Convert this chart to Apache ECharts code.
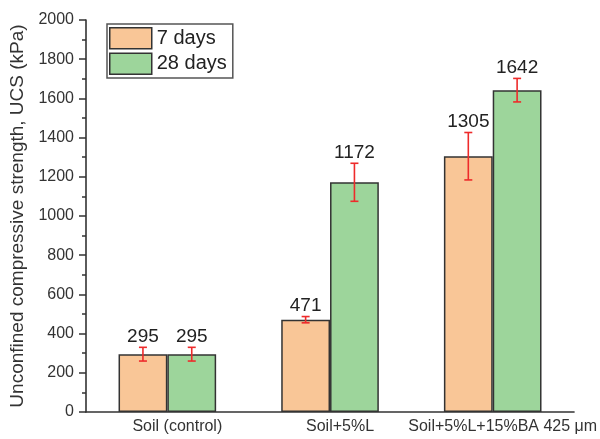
<!DOCTYPE html>
<html>
<head>
<meta charset="utf-8">
<script src="https://cdn.jsdelivr.net/npm/echarts@6/dist/echarts.min.js"></script>
<style>
html,body{margin:0;padding:0;background:#fff;}
#chart{width:600px;height:439px;}
</style>
</head>
<body>
<div id="chart"></div>
<script>
// Mixtures tested and the curing ages shown
const categories = ['Soil (control)', 'Soil+5%L', 'Soil+5%L+15%BA 425 \u03bcm'];
const seriesNames = ['7 days', '28 days'];
// Mean UCS (kPa)
const ucs7 = [295, 471, 1305];
const ucs28 = [295, 1172, 1642];
// Standard deviation (kPa)
const err7 = [35, 16, 121];
const err28 = [35, 97, 60];
const yTicks = [0, 200, 400, 600, 800, 1000, 1200, 1400, 1600, 1800, 2000];

const chart = echarts.init(document.getElementById('chart'));
const FONT = 'Liberation Sans, Arial, sans-serif';
const COLORS = ['#F9C697', '#9DD59B'];
const BAR_RATIO = 0.30;

function errorSeries(idx, means, errs) {
  const data = means.map((m, i) => [i, m, errs[i]]);
  return {
    type: 'custom',
    name: seriesNames[idx] + ' error',
    xAxisIndex: 0,
    yAxisIndex: 0,
    z: 10,
    silent: true,
    renderItem: function (params, api) {
      const ci = api.value(0);
      const mean = api.value(1);
      const e = api.value(2);
      const catW = api.size([1, 0])[0];
      const bw = catW * BAR_RATIO;
      const center = api.coord([ci, mean]);
      const x = center[0] + (idx === 0 ? -bw / 2 : bw / 2);
      const top = api.coord([ci, mean + e])[1];
      const bot = api.coord([ci, mean - e])[1];
      const cap = 4;
      const style = { stroke: '#EE2B2B', lineWidth: 1.6 };
      return {
        type: 'group',
        children: [
          { type: 'line', shape: { x1: x, y1: top, x2: x, y2: bot }, style: style },
          { type: 'line', shape: { x1: x - cap, y1: top, x2: x + cap, y2: top }, style: style },
          { type: 'line', shape: { x1: x - cap, y1: bot, x2: x + cap, y2: bot }, style: style },
          {
            type: 'text',
            style: {
              text: String(mean),
              x: x,
              y: top - 1,
              align: 'center',
              verticalAlign: 'bottom',
              fill: '#222',
              font: '19px ' + FONT
            }
          }
        ]
      };
    },
    data: data
  };
}

const option = {
  animation: false,
  backgroundColor: '#fff',
  grid: { left: 86, right: 25, top: 20, bottom: 27 },
  legend: {
    orient: 'vertical',
    left: 107,
    top: 24,
    icon: 'rect',
    itemWidth: 42,
    itemHeight: 21,
    itemGap: 3,
    padding: [3, 6, 3, 2],
    borderColor: '#555',
    borderWidth: 1.5,
    textStyle: { fontFamily: FONT, fontSize: 20, color: '#222' },
    data: seriesNames.map((n, i) => ({ name: n, itemStyle: { color: COLORS[i], borderColor: '#333', borderWidth: 1.5 } }))
  },
  xAxis: [
    {
      type: 'category',
      data: categories,
      axisLine: { lineStyle: { color: '#333', width: 1.6 } },
      axisTick: { alignWithLabel: true, length: 5, lineStyle: { color: '#333', width: 1.5 } },
      axisLabel: {
        interval: 0, hideOverlap: false, fontFamily: FONT, fontSize: 16, color: '#333',
        margin: 7, padding: [0, 0, 0, 20]
      }
    },
    {
      type: 'category',
      data: categories,
      position: 'bottom',
      axisLine: { show: false },
      axisTick: { length: 3, lineStyle: { color: '#333', width: 1.5 } },
      axisLabel: { show: false }
    }
  ],
  yAxis: {
    type: 'value',
    min: 0,
    max: 2000,
    interval: 200,
    splitLine: { show: false },
    axisLine: { show: true, lineStyle: { color: '#333', width: 1.6 } },
    axisTick: { show: true, length: 7, lineStyle: { color: '#333', width: 1.5 } },
    minorTick: { show: true, splitNumber: 2, length: 4, lineStyle: { color: '#333', width: 1.5 } },
    axisLabel: {
      fontFamily: FONT, fontSize: 16, color: '#333', margin: 12,
      formatter: function (v) { return yTicks.indexOf(v) >= 0 ? String(v) : ''; }
    },
    name: 'Unconfined compressive strength, UCS (kPa)',
    nameLocation: 'middle',
    nameGap: 56,
    nameTextStyle: { fontFamily: FONT, fontSize: 19, color: '#333' }
  },
  series: [
    {
      name: seriesNames[0], type: 'bar', data: ucs7, barWidth: '30%', barGap: '0%',
      itemStyle: { color: COLORS[0], borderColor: '#333', borderWidth: 1.5 }
    },
    {
      name: seriesNames[1], type: 'bar', data: ucs28, barWidth: '30%', barGap: '0%',
      itemStyle: { color: COLORS[1], borderColor: '#333', borderWidth: 1.5 }
    },
    errorSeries(0, ucs7, err7),
    errorSeries(1, ucs28, err28)
  ]
};
chart.setOption(option);
</script>
</body>
</html>
